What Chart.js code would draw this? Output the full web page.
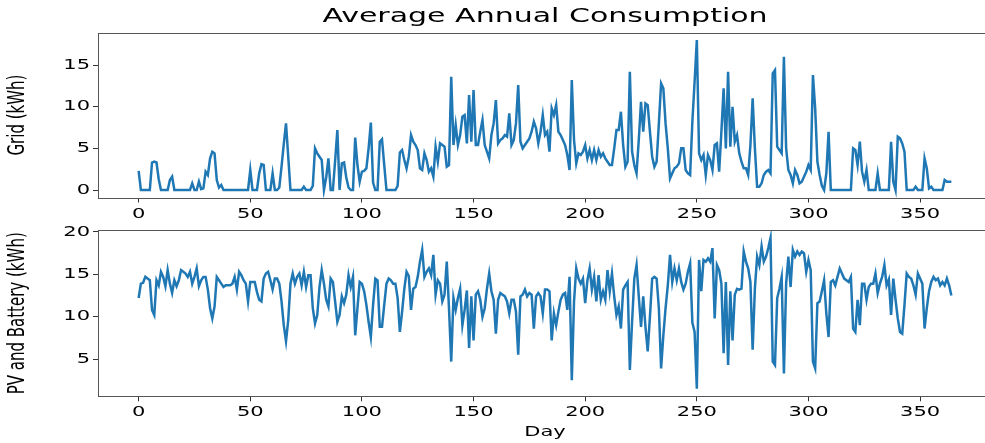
<!DOCTYPE html>
<html>
<head>
<meta charset="utf-8">
<script src="https://cdn.jsdelivr.net/npm/chart.js@4"></script>
<style>
  html, body { margin: 0; padding: 0; background: #fff; overflow: hidden; }
  #wrap { position: relative; width: 985px; height: 443px; overflow: hidden; background: #fff; }
  canvas { position: absolute; left: 0; }
  #gridChart { top: 0; }
  #pvChart { top: 215px; }
</style>
</head>
<body>
<div id="wrap">
  <canvas id="gridChart" width="1000" height="230"></canvas>
  <canvas id="pvChart" width="1000" height="228"></canvas>
</div>
<script>
const chartTitle = 'Average Annual Consumption';
const xTitle = 'Day';
const gridTitle = 'Grid (kWh)';
const pvTitle = 'PV and Battery (kWh)';

const xTicks = [0, 50, 100, 150, 200, 250, 300, 350];
const gridTicks = [0, 5, 10, 15];
const pvTicks = [5, 10, 15, 20];

// daily values, day 0 .. 364
const gridKWh = [
  2.3, 0, 0, 0, 0, 0, 3.3, 3.4, 3.3, 1.3,
  0, 0, 0, 0, 1.2, 1.6, 0, 0, 0, 0,
  0, 0, 0, 0, 0.8, 0, 0, 1.0, 0.1, 0.2,
  2.2, 1.8, 3.8, 4.6, 4.4, 1.2, 0.3, 0.6, 0, 0,
  0, 0, 0, 0, 0, 0, 0, 0, 0, 0,
  2.4, 0, 0, 0, 2.0, 3.1, 3.0, 0, 0, 0,
  2.0, 0, 0, 0.3, 2.8, 5.5, 8.0, 4.0, 0, 0,
  0, 0, 0, 0, 0.4, 0, 0, 0, 0.5, 5.0,
  4.4, 4.0, 3.6, 0, 1.5, 3.8, 0, 0, 3.5, 7.2,
  0, 3.2, 3.3, 1.5, 0.3, 0, 0, 6.3, 3.0, 1.0,
  2.2, 2.3, 2.6, 5.0, 8.1, 0.9, 0, 0, 5.8, 6.1,
  3.0, 0, 0, 0, 0, 0, 0.5, 4.5, 4.8, 3.6,
  2.6, 4.0, 6.6, 5.8, 5.4, 4.8, 2.6, 2.4, 4.4, 3.6,
  2.2, 2.6, 1.6, 5.2, 3.4, 5.6, 5.4, 5.2, 2.8, 3.0,
  13.6, 5.4, 7.8, 5.4, 6.6, 8.8, 9.0, 5.6, 11.4, 5.8,
  12.0, 5.4, 5.4, 7.0, 8.4, 5.4, 4.6, 3.8, 6.6, 8.0,
  10.8, 5.6, 6.0, 6.2, 6.6, 6.4, 9.2, 5.4, 6.0, 8.0,
  12.6, 5.8, 5.0, 5.4, 5.8, 6.2, 7.0, 8.2, 7.4, 5.6,
  7.0, 9.0, 6.6, 7.0, 4.6, 9.8, 9.0, 10.2, 7.0, 6.6,
  6.0, 5.4, 4.2, 2.4, 13.2, 6.0, 3.2, 4.4, 4.2, 4.6,
  5.4, 3.8, 4.8, 3.6, 4.8, 3.6, 4.8, 4.0, 4.4, 3.8,
  3.4, 3.0, 3.0, 5.0, 7.2, 7.2, 9.4, 5.4, 2.8, 3.4,
  14.2, 4.6, 3.0, 2.0, 6.0, 10.6, 7.0, 10.4, 10.2, 7.0,
  4.0, 2.8, 3.4, 8.0, 12.8, 12.2, 8.0, 5.0, 1.4, 2.0,
  2.6, 2.8, 3.2, 5.0, 5.0, 2.4, 2.0, 1.8, 8.2, 13.0,
  18.0, 4.4, 3.6, 4.2, 1.8, 4.2, 3.6, 2.4, 5.4, 5.6,
  2.2, 7.0, 12.2, 5.0, 14.2, 5.2, 10.0, 5.8, 6.6, 4.4,
  3.4, 2.6, 2.6, 1.8, 5.4, 11.0, 5.0, 0.4, 0.4, 0.8,
  1.8, 2.2, 2.4, 2.0, 14.0, 14.4, 5.2, 4.8, 4.4, 16.0,
  5.0, 2.4, 1.8, 0.8, 2.4, 1.8, 0.8, 1.0, 1.6, 2.2,
  3.0, 2.4, 13.8, 9.8, 3.4, 1.8, 0.5, 0, 2.0, 7.0,
  0, 0, 0, 0, 0, 0, 0, 0, 0, 0,
  5.0, 4.8, 3.0, 5.8, 2.2, 1.0, 2.4, 0, 0, 0,
  0, 2.0, 0, 0, 0, 0, 0, 5.8, 1.0, 0,
  6.4, 6.2, 5.6, 4.6, 0, 0, 0, 0, 0.4, 0,
  0, 0, 3.8, 2.6, 0.2, 0.4, 0, 0, 0, 0,
  0, 1.2, 1.0, 1.0, 1.0
];

const pvBatteryKWh = [
  12.2, 13.9, 14.0, 14.7, 14.5, 14.3, 10.8, 10.2, 14.3, 13.7,
  15.3, 14.7, 13.6, 15.5, 13.9, 12.8, 14.3, 13.6, 14.3, 15.5,
  15.3, 15.1, 14.7, 15.3, 13.9, 14.7, 15.7, 13.6, 14.3, 14.7,
  14.7, 13.2, 11.0, 9.8, 11.2, 14.7, 14.3, 13.9, 13.5, 13.7,
  13.7, 13.7, 13.9, 14.7, 13.2, 15.3, 14.9, 14.3, 13.9, 11.8,
  14.1, 14.1, 14.1, 12.9, 12.0, 11.8, 14.5, 15.1, 15.3, 14.3,
  13.2, 14.5, 14.5, 13.9, 11.8, 9.0, 7.1, 9.6, 13.9, 15.1,
  13.9, 14.7, 15.1, 13.7, 15.3, 13.5, 14.9, 14.9, 11.0, 9.2,
  10.2, 13.5, 15.5, 13.9, 12.0, 11.2, 14.5, 14.1, 11.8, 9.4,
  10.2, 12.4, 11.6, 12.6, 14.9, 13.5, 14.7, 7.8, 11.0, 14.1,
  13.9, 13.0, 11.4, 9.4, 7.6, 11.4, 14.5, 14.3, 8.8, 8.8,
  11.4, 13.9, 14.5, 14.3, 13.9, 13.9, 12.2, 8.2, 10.6, 13.3,
  15.3, 14.8, 10.8, 13.3, 13.5, 14.7, 16.5, 17.9, 14.7, 15.3,
  15.7, 14.9, 17.3, 12.6, 14.3, 13.9, 11.8, 12.6, 16.5, 11.0,
  4.7, 12.2, 10.8, 12.2, 13.3, 9.0, 10.8, 13.1, 6.3, 12.4,
  7.2, 12.6, 13.0, 12.0, 10.0, 11.0, 13.3, 15.1, 13.0, 12.0,
  8.0, 12.0, 12.8, 12.6, 12.4, 11.8, 10.4, 12.0, 12.0, 10.6,
  5.5, 12.4, 12.6, 13.2, 12.4, 12.8, 12.6, 8.6, 12.4, 12.8,
  12.4, 10.4, 13.2, 13.2, 13.0, 7.2, 10.4, 9.0, 10.6, 12.0,
  12.6, 12.8, 10.8, 14.7, 2.5, 11.8, 15.7, 14.5, 13.9, 14.5,
  11.6, 14.3, 15.7, 13.2, 14.7, 11.8, 14.9, 12.0, 13.0, 12.0,
  15.5, 13.0, 15.1, 12.4, 10.2, 11.2, 8.6, 13.2, 13.7, 14.1,
  3.7, 9.4, 14.5, 16.1, 12.4, 8.8, 12.4, 8.8, 5.9, 10.0,
  14.5, 14.7, 14.5, 11.0, 3.9, 7.8, 11.0, 13.7, 17.3, 14.1,
  15.7, 14.3, 15.7, 14.1, 13.2, 13.9, 15.3, 16.3, 9.3, 8.2,
  1.5, 16.7, 13.0, 16.7, 16.5, 16.9, 16.5, 18.1, 9.8, 16.1,
  15.5, 13.9, 5.7, 14.1, 4.3, 13.0, 7.2, 12.6, 13.3, 13.2,
  13.3, 17.7, 16.5, 15.7, 14.1, 6.1, 13.3, 17.1, 16.1, 18.3,
  16.5, 17.1, 18.1, 19.3, 4.7, 4.3, 12.2, 13.3, 14.7, 3.3,
  13.9, 17.1, 13.5, 17.9, 17.1, 17.7, 17.3, 17.7, 17.5, 15.3,
  16.7, 15.5, 4.7, 3.9, 11.6, 11.8, 13.0, 14.3, 10.4, 7.6,
  14.1, 14.3, 13.7, 14.7, 15.7, 15.1, 14.5, 14.3, 14.1, 14.7,
  8.6, 8.2, 12.0, 9.0, 13.9, 13.9, 12.0, 13.5, 13.9, 13.9,
  15.1, 12.8, 13.9, 14.7, 16.1, 13.7, 14.4, 10.2, 14.5, 12.0,
  9.8, 8.2, 8.0, 11.4, 15.1, 14.7, 14.5, 13.7, 12.6, 15.1,
  14.5, 13.9, 8.6, 11.0, 13.0, 14.1, 14.7, 14.3, 14.5, 13.7,
  14.1, 13.7, 14.5, 13.7, 12.5
];

const days = gridKWh.map((_, i) => i);
const lineColor = '#1f77b4';
const font = { family: 'DejaVu Sans', size: 14 };
const textStretch = 1.5;   // the reference text is drawn wide

// stretch every label horizontally (screen space) around its anchor
function widenText(canvas) {
  const ctx = canvas.getContext('2d');
  const fill = ctx.fillText;
  ctx.fillText = function (text, x, y) {
    const m = this.getTransform();
    const px = m.a * x + m.c * y + m.e;
    this.save();
    this.setTransform(textStretch, 0, 0, 1, px - textStretch * px, 0);
    this.transform(m.a, m.b, m.c, m.d, m.e, m.f);
    fill.call(this, text, x, y);
    this.restore();
  };
  return ctx;
}

// matplotlib-like box around the axes
const frame = {
  id: 'frame',
  afterDraw(chart) {
    const { ctx, chartArea: a } = chart;
    ctx.save();
    ctx.strokeStyle = '#555';
    ctx.lineWidth = 1;
    ctx.strokeRect(Math.round(a.left) + 0.5, Math.round(a.top) + 0.5,
                   Math.round(a.width), Math.round(a.height));
    ctx.restore();
  }
};

function makeChart(id, values, cfg) {
  const ctx = widenText(document.getElementById(id));
  return new Chart(ctx, {
    type: 'line',
    data: {
      datasets: [{
        data: values.map((v, i) => ({ x: days[i], y: v })),
        borderColor: lineColor,
        borderWidth: 2.5,
        pointRadius: 0,
        fill: false,
        tension: 0
      }]
    },
    options: {
      responsive: false,
      animation: false,
      layout: { padding: { left: 0, right: 8, top: cfg.padTop, bottom: 0 } },
      plugins: {
        legend: { display: false },
        tooltip: { enabled: false },
        title: cfg.title ? {
          display: true,
          fullSize: false,
          text: cfg.title,
          color: '#000',
          font: { family: 'DejaVu Sans', size: 20, weight: 'normal' },
          padding: { top: 5, bottom: 3.6 }
        } : { display: false }
      },
      scales: {
        x: {
          type: 'linear',
          min: -18.2,
          max: 382.2,
          afterBuildTicks: s => { s.ticks = xTicks.map(v => ({ value: v })); },
          afterFit: s => { s.height = cfg.xHeight; },
          ticks: { color: '#000', font, autoSkip: false, maxRotation: 0, padding: 3 },
          grid: { drawOnChartArea: false, drawTicks: true, tickLength: 5, color: '#333' },
          border: { display: false },
          title: cfg.xTitle ? {
            display: true, text: cfg.xTitle, color: '#000', font,
            padding: { top: 2, bottom: 2 }
          } : { display: false }
        },
        y: {
          min: cfg.yMin,
          max: cfg.yMax,
          afterBuildTicks: s => { s.ticks = cfg.yTicks.map(v => ({ value: v })); },
          afterFit: s => { s.width = 98; },
          ticks: { color: '#000', font, padding: 3 },
          grid: { drawOnChartArea: false, drawTicks: true, tickLength: 5, color: '#333' },
          border: { display: false },
          title: {
            display: true, text: cfg.yTitle, color: '#000',
            font: { family: 'DejaVu Sans', size: 15 },
            padding: { top: 9, bottom: 0 }
          }
        }
      }
    },
    plugins: [frame]
  });
}

makeChart('gridChart', gridKWh, {
  title: chartTitle, padTop: 0, xHeight: 32.5,
  yMin: -0.9, yMax: 18.9, yTicks: gridTicks, yTitle: gridTitle
});

makeChart('pvChart', pvBatteryKWh, {
  padTop: 15.3, xHeight: 46.7, xTitle: xTitle,
  yMin: 0.6, yMax: 20.2, yTicks: pvTicks, yTitle: pvTitle
});
</script>
</body>
</html>
